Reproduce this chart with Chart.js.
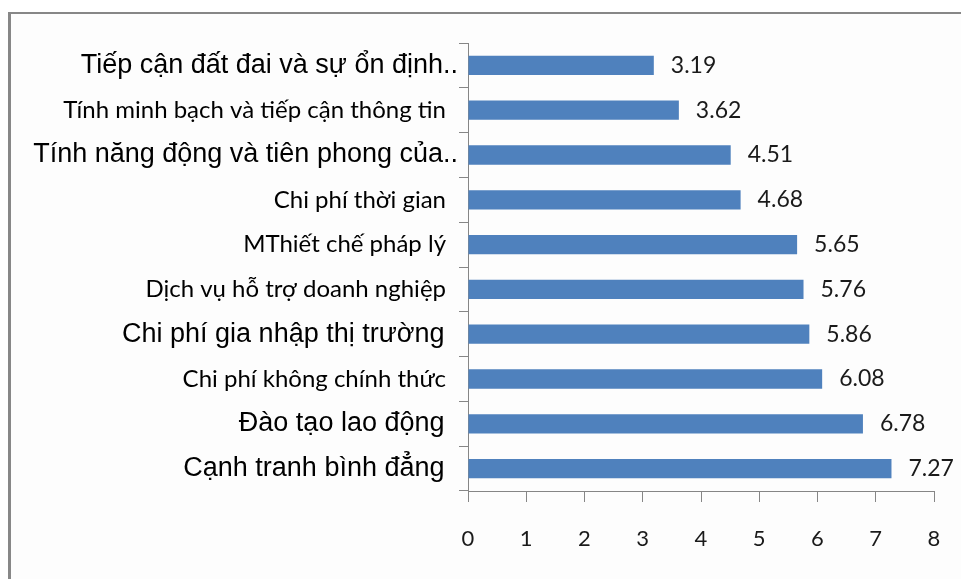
<!DOCTYPE html>
<html>
<head>
<meta charset="utf-8">
<script src="https://cdn.jsdelivr.net/npm/chart.js@4.4.1/dist/chart.umd.min.js"></script>
<style>
  html, body { margin: 0; padding: 0; background: #fff; overflow: hidden; }
  #frame {
    position: absolute; left: 8px; top: 12px; width: 1000px; height: 620px;
    border-left: 3px solid #878787; border-top: 2px solid #878787;
    background: #fdfdfd;
  }
  #chart { position: absolute; left: 0; top: 0; }
</style>
</head>
<body>
<div id="frame"></div>
<canvas id="chart" width="961" height="579"></canvas>
<script>
// chỉ số thành phần, từ trên xuống
const categories = [
  "Tiếp cận đất đai và sự ổn định..",
  "Tính minh bạch và tiếp cận thông tin",
  "Tính năng động và tiên phong của..",
  "Chi phí thời gian",
  "MThiết chế pháp lý",
  "Dịch vụ hỗ trợ doanh nghiệp",
  "Chi phí gia nhập thị trường",
  "Chi phí không chính thức",
  "Đào tạo lao động",
  "Cạnh tranh bình đẳng",
];
const scores = [3.19, 3.62, 4.51, 4.68, 5.65, 5.76, 5.86, 6.08, 6.78, 7.27];
const xTicks = [0, 1, 2, 3, 4, 5, 6, 7, 8];
// nhãn nào dùng phông Arial (còn lại Calibri)
const arialRows = [0, 2, 6, 8, 9];

const BLUE = "#4F81BD";
const AXIS = "#868686";

// ghi giá trị bên phải mỗi thanh
const valueLabels = {
  id: "valueLabels",
  afterDatasetsDraw(chart) {
    const ctx = chart.ctx;
    const meta = chart.getDatasetMeta(0);
    ctx.save();
    ctx.font = "23px Lato";
    ctx.fillStyle = "#1a1a1a";
    ctx.textAlign = "left";
    ctx.textBaseline = "middle";
    meta.data.forEach((bar, i) => {
      ctx.fillText(scores[i].toFixed(2), bar.x + 17, bar.y);
    });
    ctx.restore();
  },
};

// nhãn bị cắt ".." sát trục hơn, nhãn khác có khoảng trắng phía sau
function yLabel(v, i) {
  const s = categories[i];
  return s.endsWith("..") ? s : s + "\u2002";
}

new Chart(document.getElementById("chart"), {
  type: "bar",
  data: {
    labels: categories,
    datasets: [
      {
        data: scores,
        backgroundColor: BLUE,
        barPercentage: 0.43,
        categoryPercentage: 1.0,
      },
    ],
  },
  options: {
    indexAxis: "y",
    responsive: false,
    animation: false,
    devicePixelRatio: 1,
    layout: { padding: { left: 12, top: 43, right: 27, bottom: 0 } },
    plugins: {
      legend: { display: false },
      tooltip: { enabled: false },
    },
    scales: {
      x: {
        min: 0,
        max: 8,
        afterBuildTicks: (axis) => {
          axis.ticks = xTicks.map((v) => ({ value: v }));
        },
        afterFit: (axis) => {
          axis.height = 88;
          axis.paddingLeft = 0;
          axis.paddingRight = 0;
        },
        border: { color: AXIS, width: 1 },
        grid: { drawOnChartArea: false, color: AXIS, tickLength: 11 },
        ticks: {
          color: "#1a1a1a",
          font: { family: "Lato", size: 22 },
          padding: 24,
        },
      },
      y: {
        afterFit: (axis) => {
          axis.width = 456;
        },
        border: { color: AXIS, width: 1 },
        grid: { drawOnChartArea: false, color: AXIS, tickLength: 9, offset: true },
        ticks: {
          color: "#000",
          padding: 1,
          callback: yLabel,
          font: (c) =>
            arialRows.includes(c.index)
              ? { family: "Liberation Sans", size: 27 }
              : { family: "Lato", size: 24 },
        },
      },
    },
  },
  plugins: [valueLabels],
});
</script>
</body>
</html>
